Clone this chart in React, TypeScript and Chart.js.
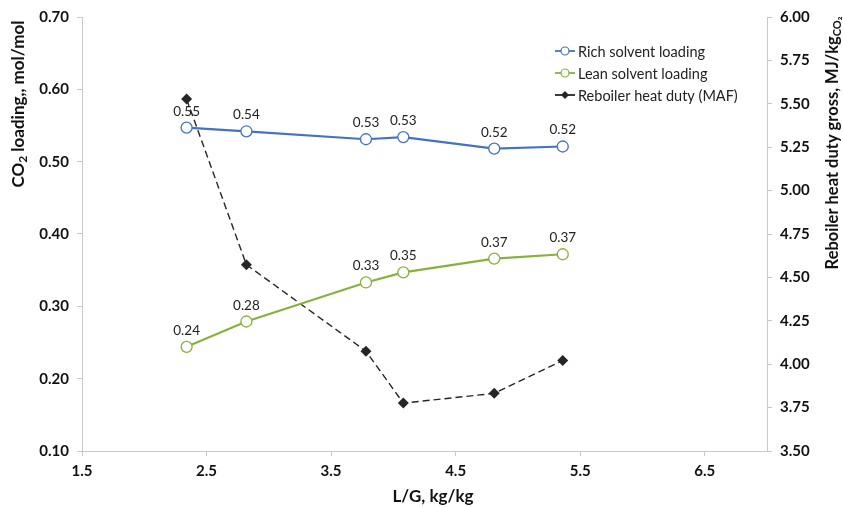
import React, { useEffect, useRef } from "react";
import { Chart, registerables } from "chart.js";

Chart.register(...registerables);

const lgValues = [2.34, 2.82, 3.78, 4.08, 4.81, 5.36];
const richLoading = [0.547, 0.542, 0.531, 0.534, 0.518, 0.521];
const leanLoading = [0.244, 0.279, 0.333, 0.347, 0.366, 0.372];
const reboilerDuty = [5.527, 4.573, 4.075, 3.776, 3.832, 4.021];
const xTicks = [1.5, 2.5, 3.5, 4.5, 5.5, 6.5];
const seriesNames = ["Rich solvent loading", "Lean solvent loading", "Reboiler heat duty (MAF)"];

const FONT = "Lato, 'Open Sans', sans-serif";
const BLUE = "#4472C4";
const GREEN = "#86B23C";
const BLACK = "#262626";

function drawRich(ctx: CanvasRenderingContext2D, parts: { t: string; sub?: boolean }[], size: number, subSize: number) {
  let total = 0;
  for (const p of parts) {
    ctx.font = `bold ${p.sub ? subSize : size}px ${FONT}`;
    total += ctx.measureText(p.t).width;
  }
  let x = -total / 2;
  for (const p of parts) {
    ctx.font = `bold ${p.sub ? subSize : size}px ${FONT}`;
    ctx.fillText(p.t, x, p.sub ? 4 : 0);
    x += ctx.measureText(p.t).width;
  }
}

const overlay = {
  id: "overlay",
  afterDatasetsDraw(chart: any) {
    const ctx = chart.ctx as CanvasRenderingContext2D;
    ctx.save();
    // data labels
    ctx.fillStyle = "#222";
    ctx.font = `13.5px ${FONT}`;
    ctx.textAlign = "center";
    ctx.textBaseline = "alphabetic";
    [0, 1].forEach((di) => {
      const meta = chart.getDatasetMeta(di);
      const data = chart.data.datasets[di].data as any[];
      meta.data.forEach((pt: any, i: number) => {
        ctx.fillText(data[i].y.toFixed(2), pt.x, pt.y - 12);
      });
    });
    // legend
    const lx0 = 555, lx1 = 575, tx = 578;
    const rows = [51, 73, 95];
    const cols = [BLUE, GREEN, BLACK];
    ctx.textAlign = "left";
    ctx.textBaseline = "middle";
    rows.forEach((y, i) => {
      ctx.strokeStyle = cols[i];
      ctx.lineWidth = 1.8;
      ctx.beginPath();
      ctx.moveTo(lx0, y);
      ctx.lineTo(lx1, y);
      ctx.stroke();
      const cx = (lx0 + lx1) / 2;
      if (i < 2) {
        ctx.fillStyle = "#fff";
        ctx.beginPath();
        ctx.arc(cx, y, 4, 0, Math.PI * 2);
        ctx.fill();
        ctx.lineWidth = 1.2;
        ctx.stroke();
      } else {
        ctx.fillStyle = BLACK;
        ctx.beginPath();
        ctx.moveTo(cx, y - 4);
        ctx.lineTo(cx + 4, y);
        ctx.lineTo(cx, y + 4);
        ctx.lineTo(cx - 4, y);
        ctx.closePath();
        ctx.fill();
      }
      ctx.fillStyle = "#222";
      ctx.font = `14.5px ${FONT}`;
      ctx.fillText(seriesNames[i], tx, y + 1);
    });
    // axis titles
    ctx.fillStyle = "#111";
    ctx.textAlign = "left";
    ctx.textBaseline = "middle";
    ctx.save();
    ctx.translate(19, 104);
    ctx.rotate(-Math.PI / 2);
    drawRich(ctx, [{ t: "CO" }, { t: "2", sub: true }, { t: " loading,, mol/mol" }], 17, 12);
    ctx.restore();
    ctx.save();
    ctx.translate(833, 143);
    ctx.rotate(-Math.PI / 2);
    drawRich(ctx, [{ t: "Reboiler heat duty gross, MJ/kg" }, { t: "CO₂", sub: true }], 16.5, 11);
    ctx.restore();
    ctx.font = `bold 17px ${FONT}`;
    ctx.textAlign = "center";
    ctx.fillText("L/G, kg/kg", 433, 497);
    ctx.restore();
  },
};

export default function App() {
  const ref = useRef<HTMLCanvasElement>(null);
  useEffect(() => {
    const toXY = (ys: number[]) => ys.map((y, i) => ({ x: lgValues[i], y }));
    const tickFont = { family: FONT, size: 15, weight: "bold" as const };
    const chart = new Chart(ref.current!, {
      type: "line",
      data: {
        datasets: [
          {
            label: seriesNames[0],
            data: toXY(richLoading),
            yAxisID: "y",
            borderColor: BLUE,
            borderWidth: 2.2,
            pointBackgroundColor: "#fff",
            pointBorderColor: BLUE,
            pointBorderWidth: 1.3,
            pointRadius: 5.5,
            pointStyle: "circle",
          },
          {
            label: seriesNames[1],
            data: toXY(leanLoading),
            yAxisID: "y",
            borderColor: GREEN,
            borderWidth: 2.2,
            pointBackgroundColor: "#fff",
            pointBorderColor: GREEN,
            pointBorderWidth: 1.3,
            pointRadius: 5.5,
            pointStyle: "circle",
          },
          {
            label: seriesNames[2],
            data: toXY(reboilerDuty),
            yAxisID: "y1",
            borderColor: BLACK,
            borderWidth: 1.4,
            borderDash: [7, 4],
            pointBackgroundColor: BLACK,
            pointBorderColor: BLACK,
            pointRadius: 4.5,
            pointStyle: "rectRot",
          },
        ],
      },
      options: {
        animation: false,
        responsive: false,
        layout: { padding: { top: 16, left: 0, right: 0, bottom: 0 } },
        plugins: { legend: { display: false }, tooltip: { enabled: false }, title: { display: false } },
        scales: {
          x: {
            type: "linear",
            min: 1.5,
            max: 7.0,
            afterBuildTicks: (s: any) => {
              s.ticks = xTicks.map((v) => ({ value: v }));
            },
            afterFit: (s: any) => {
              s.height = 56;
            },
            grid: { drawOnChartArea: false, color: "#c8c8c8", tickLength: 5 },
            border: { color: "#c8c8c8", width: 1 },
            ticks: { font: tickFont, color: "#111", padding: 6, callback: (v: any) => Number(v).toFixed(1), maxRotation: 0 },
          },
          y: {
            type: "linear",
            position: "left",
            min: 0.1,
            max: 0.7,
            afterFit: (s: any) => {
              s.width = 82;
            },
            grid: { drawOnChartArea: false, color: "#c8c8c8", tickLength: 5 },
            border: { color: "#c8c8c8", width: 1 },
            ticks: { stepSize: 0.1, font: tickFont, color: "#111", padding: 8, callback: (v: any) => Number(v).toFixed(2) },
          },
          y1: {
            type: "linear",
            position: "right",
            min: 3.5,
            max: 6.0,
            afterFit: (s: any) => {
              s.width = 76;
            },
            grid: { drawOnChartArea: false, color: "#c8c8c8", tickLength: 5 },
            border: { color: "#c8c8c8", width: 1 },
            ticks: { stepSize: 0.25, font: tickFont, color: "#111", padding: 8, callback: (v: any) => Number(v).toFixed(2) },
          },
        },
      },
      plugins: [overlay],
    });
    return () => chart.destroy();
  }, []);
  return (
    <div style={{ position: "absolute", left: 0, top: 0, width: 843, height: 507, background: "#fff" }}>
      <canvas ref={ref} width={843} height={507} />
    </div>
  );
}
